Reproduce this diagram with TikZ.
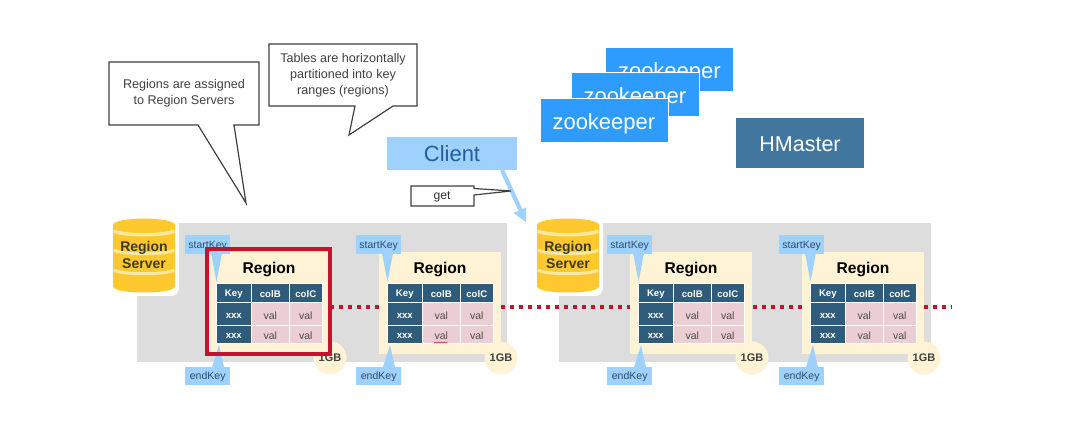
\documentclass[tikz,border=0pt]{standalone}
\usepackage{fontspec}
\usetikzlibrary{calc}
\setmainfont{Liberation Sans}
\definecolor{panelgray}{HTML}{DDDDDD}
\definecolor{regyellow}{HTML}{FFF3D6}
\definecolor{hdrblue}{HTML}{2F5C7A}
\definecolor{cellpink}{HTML}{EBCED3}
\definecolor{keyblue}{HTML}{9FD1FF}
\definecolor{keytext}{HTML}{2F4A66}
\definecolor{zooblue}{HTML}{2E9CFF}
\definecolor{masterblue}{HTML}{41779F}
\definecolor{clienttext}{HTML}{1F5F9E}
\definecolor{dbyellow}{HTML}{FFC82E}
\definecolor{dbstripe}{HTML}{FFE9A0}
\definecolor{dbtext}{HTML}{3D3A1F}
\definecolor{redline}{HTML}{C5122F}
\definecolor{calloutline}{HTML}{404040}
\newcommand{\lowered}[2]{\raisebox{-#1}[\height][\depth]{#2}}
\tikzset{
  x=1pt,y=-1pt,
  panelbox/.style={fill=panelgray,draw=none,minimum width=#1,minimum height=139pt,inner sep=0pt,anchor=north west},
  regionbox/.style={fill=regyellow,draw=none,minimum width=122pt,minimum height=102pt,inner sep=0pt,anchor=north west},
  cellbase/.style={draw=white,line width=.6pt,inner sep=0pt,anchor=north west},
  hdrcell/.style={cellbase,fill=hdrblue,text=white,font=\fontsize{9.6}{10}\selectfont\bfseries},
  valcell/.style={cellbase,fill=cellpink,text=black!70,font=\fontsize{10.5}{11}\selectfont},
  keybox/.style={fill=keyblue,text=keytext,inner sep=0pt,minimum width=45pt,minimum height=18.5pt,anchor=north west,font=\fontsize{10.5}{11}\selectfont},
  zoobox/.style={fill=zooblue,draw=white,line width=.8pt,text=white,inner sep=0pt,minimum width=128pt,minimum height=44pt,anchor=north west,font=\fontsize{22}{24}\selectfont},
  gbcircle/.style={circle,fill=regyellow,inner sep=0pt,minimum size=33pt,text=black!75,font=\fontsize{11}{12}\selectfont\bfseries},
  callout/.style={draw=calloutline,fill=white,line width=1.2pt,line join=miter},
  callouttext/.style={text=black!75,align=center,font=\fontsize{12.6}{15.8}\selectfont,inner sep=0pt},
  dotted red/.style={draw=redline,line width=3.4pt,dash pattern=on 4pt off 5pt},
}
% #1 name, #2 left edge of the yellow box
\newcommand{\regionblock}[2]{%
  \begin{scope}[shift={(#2,0)}]
    \node[regionbox] (#1box) at (0,252) {};
    \node[font=\fontsize{15.6}{16}\selectfont\bfseries] (#1title) at (61,269.5) {Region};
    \foreach \nm/\cx/\cw/\rtype/\cy/\ch/\txt in {
      a/8/35/hdrcell/283/19.5/Key, b/43/38/hdrcell/283/19.5/colB, c/81/33/hdrcell/283/19.5/colC,
      d/8/35/hdrcell/302.5/23/xxx, e/43/38/valcell/302.5/23/val, f/81/33/valcell/302.5/23/val,
      g/8/35/hdrcell/325.5/18/xxx, h/43/38/valcell/325.5/18/val, i/81/33/valcell/325.5/18/val}{
      \node[\rtype,minimum width=\cw pt,minimum height=\ch pt] (#1\nm) at (\cx,\cy) {\lowered{1.2pt}{\txt}};
    }
    \node[keybox] (#1start) at (-23,235) {\lowered{1.5pt}{startKey}};
    \node[keybox] (#1end) at (-23,366.5) {\lowered{1pt}{endKey}};
    \coordinate (#1stip) at (8.5,282);
    \coordinate (#1etip) at (11,345);
    \fill[keyblue] (3,253) -- (#1stip) -- (14,253) -- cycle;
    \fill[keyblue] (4,367) -- (#1etip) -- (16,367) -- cycle;
    \node[gbcircle] (#1gb) at (122,358) {1GB};
  \end{scope}}
% #1 name, #2 left edge
\newcommand{\serverdb}[2]{%
  \begin{scope}[shift={(#2,0)}]
    \fill[white,rounded corners=8pt] (-3,217) rectangle (66,296);
    \fill[dbyellow] (0,225) -- (62,225) -- (62,286)
       .. controls (62,290.5) and (48,292.5) .. (31,292.5)
       .. controls (14,292.5) and (0,290.5) .. (0,286) -- cycle;
    \fill[dbyellow] (31,225) ellipse[x radius=31pt,y radius=6.5pt];
    \draw[dbstripe,line width=3.4pt] (1,231) .. controls (8,236) and (54,236) .. (61,231);
    \draw[dbstripe,line width=3pt] (1,250) .. controls (8,255) and (54,255) .. (61,250);
    \draw[dbstripe,line width=3pt] (1,270) .. controls (8,275) and (54,275) .. (61,270);
    \node[text=dbtext,align=center,inner sep=0pt,font=\fontsize{14}{17}\selectfont\bfseries] (#1) at (31,255) {Region\\Server};
  \end{scope}}
\begin{document}
\begin{tikzpicture}
\useasboundingbox (0,0) rectangle (1072,427);
\fill[white] (0,0) rectangle (1072,427);
% panels
\node[panelbox=370pt] (panelA) at (137,223) {};
\node[panelbox=372pt] (panelB) at (559,223) {};
% dotted line
\coordinate (dotstart) at (330,307);
\coordinate (dotend) at (952,307);
\draw[dotted red] (dotstart) -- (dotend);
% servers
\serverdb{serverA}{113}
\serverdb{serverB}{537}
% regions
\regionblock{ra}{208}
\regionblock{rb}{379}
\regionblock{rc}{630}
\regionblock{rd}{802}
% spell-check squiggle
\draw[redline,line width=.5pt] (434,343.2) -- (435.5,342) -- (437,343.2) -- (438.5,342) -- (440,343.2) -- (441.5,342) -- (443,343.2) -- (444.5,342) -- (446,343.2) -- (447.5,342);
% red highlight
\node[draw=redline,line width=4pt,minimum width=123pt,minimum height=105pt,inner sep=0pt,anchor=north west] (redbox) at (205,247) {};
% callouts
\draw[callout] (109,62) -- (259,62) -- (259,125) -- (234,125) -- (246,203) -- (198,125) -- (109,125) -- cycle;
\node[callouttext] (noteA) at (184,93.5) {Regions are assigned\\to Region Servers};
\draw[callout] (269,44) -- (417,44) -- (417,106) -- (393,106) -- (349,135) -- (355,106) -- (269,106) -- cycle;
\node[callouttext] (noteB) at (343,75.5) {Tables are horizontally\\partitioned into key\\ranges (regions)};
% zookeepers
\node[zoobox] (zk1) at (605,47) {\lowered{3pt}{zookeeper}};
\node[zoobox] (zk2) at (570.5,72.5) {\lowered{3pt}{zookeeper}};
\node[zoobox] (zk3) at (539.5,98) {\lowered{3pt}{zookeeper}};
% master
\node[fill=masterblue,text=white,inner sep=0pt,minimum width=128pt,minimum height=50pt,font=\fontsize{21.5}{24}\selectfont] (hmaster) at (800,143) {\lowered{1pt}{HMaster}};
% client
\node[fill=keyblue,text=clienttext,inner sep=0pt,minimum width=130pt,minimum height=33pt,font=\fontsize{22}{24}\selectfont] (client) at (452,153.5) {Client};
\coordinate (clientfoot) at (502,170);
\coordinate (arrowtip) at (526,222);
\draw[keyblue,line width=4.2pt] (clientfoot) -- ($(clientfoot)!0.85!(arrowtip)$);
\fill[keyblue] (arrowtip) -- (513.5,213) -- (526,207.5) -- cycle;
% get callout
\draw[callout] (411,186) -- (474,186) -- (474,188.5) -- (511,191) -- (474,195) -- (474,206) -- (411,206) -- cycle;
\node[text=black!80,inner sep=0pt,font=\fontsize{12.2}{14}\selectfont] (getlabel) at (442,197) {get};
\end{tikzpicture}
\end{document}
